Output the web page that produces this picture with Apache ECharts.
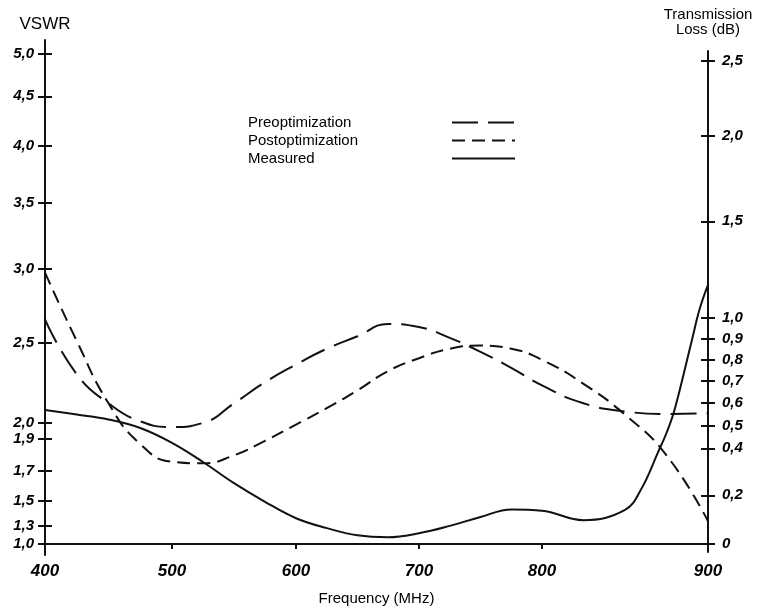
<!DOCTYPE html>
<html><head><meta charset="utf-8">
<script src="https://cdn.jsdelivr.net/npm/echarts@6/dist/echarts.min.js"></script>
<style>html,body{margin:0;padding:0;background:#fff}#c{width:763px;height:610px}</style>
</head><body><div id="c"></div>
<script>
// ---------------- data ----------------
const freqMHz = [400,425,450,475,500,525,550,575,600,625,650,675,700,725,750,775,800,825,850,875,900];
const preVSWR = [2.65,2.30,2.12,2.01,1.975,2.00,2.12,2.25,2.36,2.46,2.54,2.62,2.60,2.53,2.44,2.34,2.23,2.12,2.07,2.055,2.06];
const postVSWR = [2.97,2.51,2.12,1.87,1.76,1.75,1.80,1.89,1.99,2.09,2.20,2.32,2.40,2.46,2.48,2.46,2.39,2.24,2.05,1.80,1.34];
const measuredFreqMHz = [400,425,450,475,500,525,550,575,600,625,650,675,700,725,750,775,800,825,850,860,870,875,880,890,895,900];
const measuredLossDB = [0.569,0.549,0.527,0.489,0.424,0.341,0.251,0.173,0.105,0.0645,0.0352,0.0275,0.0437,0.0735,0.110,0.141,0.136,0.097,0.139,0.229,0.385,0.467,0.574,0.883,1.045,1.165];
const freqTicks = [400,500,600,700,800,900];
const vswrTicks = [1.0,1.3,1.5,1.7,1.9,2.0,2.5,3.0,3.5,4.0,4.5,5.0];
const lossTicks = [0,0.2,0.4,0.5,0.6,0.7,0.8,0.9,1.0,1.5,2.0,2.5];
const seriesNames = ['Preoptimization','Postoptimization','Measured'];

// ---------------- scales of the hand-drawn axes ----------------
// spacing of successive 100 MHz ticks as drawn (axis units)
const freqTickSpacing = [127,124,123,123,166];
const freqTickPos = freqTickSpacing.reduce((a,s)=>{a.push(a[a.length-1]+s);return a;},[0]);
const X_MAX = freqTickPos[freqTickPos.length-1];
function freqToAxis(f){
  for(let i=0;i<freqTicks.length-1;i++){
    if(f<=freqTicks[i+1]||i===freqTicks.length-2){
      const t=(f-freqTicks[i])/(freqTicks[i+1]-freqTicks[i]);
      return freqTickPos[i]+t*(freqTickPos[i+1]-freqTickPos[i]);
    }
  }
}
// loss axis of the drawing is compressed towards the top
function lossToAxis(L){ return 247.9*L - 21.87*L*L; }
// VSWR axis = mismatch loss of that VSWR
function vswrToLoss(v){ const g=(v-1)/(v+1); return -10*Math.log10(1-g*g); }

const fmt = v => (v===0 ? '0' : v.toFixed(1).replace('.',','));
const xTickVals = freqTicks.map(freqToAxis);
const leftVals = vswrTicks.map(v=>lossToAxis(vswrToLoss(v)));
const rightVals = lossTicks.map(lossToAxis);
function lookup(vals, ticks, formatter){
  return function(value){
    for(let i=0;i<vals.length;i++){ if(Math.abs(vals[i]-value)<1e-6) return formatter(ticks[i]); }
    return '';
  };
}

const INK = '#111';
const LINE_W = 2;
const handLabel = {color:'#000', fontFamily:'Liberation Sans', fontStyle:'italic', fontWeight:'bold'};
const plainText = {color:'#000', fontFamily:'Liberation Sans', fontSize:15};

const chart = echarts.init(document.getElementById('c'), null, {renderer:'canvas'});
chart.setOption({
  animation:false,
  backgroundColor:'#fff',
  grid:[
    {left:45, right:55, top:40, bottom:55, containLabel:false, outerBoundsMode:'none'},
    {left:45, right:55, top:51, bottom:58, containLabel:false, outerBoundsMode:'none'}
  ],
  xAxis:[
    {type:'value', gridIndex:0, min:0, max:X_MAX,
     axisLine:{onZero:true, lineStyle:{color:INK, width:2}},
     axisTick:{customValues:xTickVals.slice(1,-1), length:5, lineStyle:{color:INK, width:2}},
     axisLabel:{customValues:xTickVals, formatter:lookup(xTickVals, freqTicks, v=>String(v)), margin:8, fontSize:17, ...handLabel},
     splitLine:{show:false},
     name:'Frequency (MHz)', nameLocation:'middle', nameGap:36, nameTextStyle:plainText},
    {type:'value', gridIndex:0, min:0, max:X_MAX,
     axisLine:{show:false, onZero:true},
     axisTick:{inside:true, customValues:xTickVals.slice(1,-1), length:5, lineStyle:{color:INK, width:2}},
     axisLabel:{show:false}, splitLine:{show:false}},
    {type:'value', gridIndex:1, min:0, max:X_MAX, show:false}
  ],
  yAxis:[
    {type:'value', gridIndex:0, position:'left', min:-11, max:504,
     axisLine:{onZero:false, lineStyle:{color:INK, width:2}},
     axisTick:{customValues:leftVals, length:7, lineStyle:{color:INK, width:2}},
     axisLabel:{customValues:leftVals, formatter:lookup(leftVals, vswrTicks, fmt), margin:11, fontSize:15, ...handLabel},
     splitLine:{show:false},
     name:'VSWR', nameLocation:'end', nameGap:7,
     nameTextStyle:{color:'#000', fontFamily:'Liberation Sans', fontSize:17}},
    {type:'value', gridIndex:0, position:'left', min:-11, max:504,
     axisLine:{show:false, onZero:false},
     axisTick:{inside:true, customValues:leftVals, length:7, lineStyle:{color:INK, width:2}},
     axisLabel:{show:false}, splitLine:{show:false}},
    {type:'value', gridIndex:1, position:'right', min:-8, max:493,
     axisLine:{onZero:false, lineStyle:{color:INK, width:2}},
     axisTick:{customValues:rightVals, length:7, lineStyle:{color:INK, width:2}},
     axisLabel:{customValues:rightVals, formatter:lookup(rightVals, lossTicks, fmt), margin:14, fontSize:15, ...handLabel},
     splitLine:{show:false},
     name:'Transmission\nLoss (dB)', nameLocation:'end', nameGap:14,
     nameTextStyle:{...plainText, lineHeight:15}},
    {type:'value', gridIndex:1, position:'right', min:-8, max:493,
     axisLine:{show:false, onZero:false},
     axisTick:{inside:true, customValues:rightVals, length:7, lineStyle:{color:INK, width:2}},
     axisLabel:{show:false}, splitLine:{show:false}}
  ],
  legend:{
    left:243, top:110, orient:'vertical', align:'right',
    itemWidth:63, itemHeight:14, itemGap:3, selectedMode:false,
    data:seriesNames,
    formatter:n=>'{t|'+n+'}',
    itemStyle:{opacity:0},
    textStyle:{...plainText, rich:{t:{width:199, align:'left', ...plainText}}}
  },
  series:[
    {type:'line', name:seriesNames[0], xAxisIndex:0, yAxisIndex:0,
     data:freqMHz.map((f,i)=>[freqToAxis(f), lossToAxis(vswrToLoss(preVSWR[i]))]),
     symbol:'none', smooth:0.5, lineStyle:{color:INK, width:LINE_W, type:[26,10]}, itemStyle:{color:INK}},
    {type:'line', name:seriesNames[1], xAxisIndex:0, yAxisIndex:0,
     data:freqMHz.map((f,i)=>[freqToAxis(f), lossToAxis(vswrToLoss(postVSWR[i]))]),
     symbol:'none', smooth:0.5, lineStyle:{color:INK, width:LINE_W, type:[13,7]}, itemStyle:{color:INK}},
    {type:'line', name:seriesNames[2], xAxisIndex:0, yAxisIndex:0,
     data:measuredFreqMHz.map((f,i)=>[freqToAxis(f), lossToAxis(measuredLossDB[i])]),
     symbol:'none', smooth:0.4, lineStyle:{color:INK, width:LINE_W, type:'solid'}, itemStyle:{color:INK}}
  ]
});
</script></body></html>
